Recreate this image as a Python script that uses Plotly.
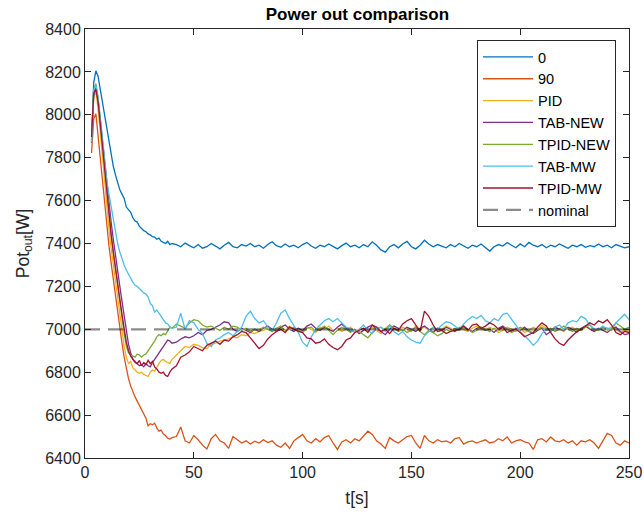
import plotly.graph_objects as go

# ---------------- data ----------------
T_TRANS = [3, 4, 5, 6, 7, 8, 9, 10, 11, 12, 13, 14, 15, 16, 17, 18, 19, 20,
           21, 22, 23, 24, 25, 26, 27, 28, 29, 30, 31, 32, 33, 34, 35, 36, 37,
           38, 39, 40]
STEADY_START = 42
STEADY_STEP = 2

P0_TRANS = [7880, 8150, 8205, 8180, 8120, 8060, 8010, 7950, 7880, 7810, 7760,
            7720, 7685, 7650, 7630, 7610, 7570, 7555, 7545, 7520, 7505, 7500,
            7480, 7470, 7460, 7455, 7445, 7440, 7432, 7430, 7420, 7425, 7410,
            7405, 7400, 7410, 7395, 7400]
P0_STEADY = [7395, 7385, 7402, 7390, 7380, 7395, 7378, 7385, 7400, 7388, 7375,
             7392, 7405, 7385, 7380, 7395, 7388, 7400, 7385, 7392, 7378, 7395,
             7408, 7390, 7382, 7398, 7385, 7392, 7380, 7395, 7405, 7388, 7378,
             7392, 7385, 7398, 7388, 7375, 7390, 7402, 7385, 7392, 7380, 7395,
             7385, 7408, 7392, 7370, 7360, 7385, 7395, 7380, 7398, 7410, 7385,
             7375, 7392, 7415, 7398, 7385, 7395, 7388, 7380, 7395, 7385, 7400,
             7388, 7378, 7392, 7385, 7398, 7380, 7365, 7385, 7395, 7388, 7405,
             7392, 7380, 7398, 7385, 7405, 7392, 7385, 7395, 7380, 7392, 7385,
             7398, 7388, 7378, 7392, 7385, 7395, 7382, 7390, 7385, 7398, 7385,
             7392, 7380, 7395, 7388, 7380, 7385]

P90_TRANS = [7822, 7980, 8005, 7900, 7780, 7670, 7570, 7480, 7390, 7310, 7230,
             7155, 7080, 7005, 6935, 6870, 6810, 6770, 6735, 6705, 6685, 6665,
             6645, 6625, 6610, 6585, 6550, 6560, 6555, 6562, 6540, 6525, 6530,
             6512, 6505, 6492, 6488, 6495]
P90_STEADY = [6500, 6545, 6480, 6470, 6505, 6485, 6460, 6442, 6490, 6510, 6480,
              6470, 6445, 6500, 6485, 6470, 6480, 6465, 6478, 6470, 6485, 6472,
              6480, 6460, 6450, 6470, 6445, 6480, 6495, 6510, 6480, 6470, 6490,
              6475, 6495, 6505, 6470, 6440, 6475, 6485, 6470, 6490, 6480, 6505,
              6525, 6510, 6480, 6465, 6445, 6495, 6480, 6470, 6485, 6500, 6505,
              6470, 6445, 6505, 6480, 6470, 6485, 6475, 6480, 6470, 6490, 6495,
              6465, 6475, 6480, 6470, 6478, 6485, 6470, 6475, 6490, 6480, 6498,
              6470, 6480, 6485, 6475, 6470, 6440, 6485, 6490, 6475, 6498, 6480,
              6475, 6485, 6470, 6480, 6460, 6480, 6475, 6485, 6470, 6445, 6480,
              6515, 6505, 6470, 6460, 6480, 6470]

PID_TRANS = [7860, 8080, 8110, 8030, 7920, 7800, 7680, 7570, 7470, 7380, 7300,
             7220, 7140, 7060, 6985, 6920, 6870, 6840, 6850, 6820, 6810, 6800,
             6795, 6800, 6790, 6785, 6780, 6800, 6810, 6805, 6825, 6840, 6855,
             6860, 6850, 6845, 6840, 6860]
PID_STEADY = [6880, 6900, 6920, 6915, 6930, 6925, 6915, 6910, 6930, 6935, 6945,
              6950, 6955, 6965, 6960, 6975, 6970, 6985, 6980, 6990, 6995, 7005,
              6990, 7000, 7010, 6995, 7015, 7000, 7005, 6990, 7010, 7000, 6985,
              7010, 7000, 7015, 6995, 7005, 6990, 7000, 7010, 6985, 7000, 7005,
              6990, 7010, 6995, 6980, 7005, 7020, 7000, 6995, 7010, 7000, 6990,
              7015, 7000, 7010, 6995, 6985, 7005, 7000, 7015, 7005, 6995, 7010,
              7000, 6990, 7005, 7015, 7000, 6995, 7010, 7000, 6985, 6995, 7010,
              7000, 6990, 7005, 6985, 6995, 7010, 7000, 7020, 7005, 6995, 7010,
              7000, 6990, 7005, 7010, 6995, 7000, 7015, 7005, 6990, 7000, 7010,
              6995, 7005, 7000, 6985, 6995, 6990]

TABNEW_TRANS = [7870, 8090, 8130, 8070, 7980, 7880, 7780, 7680, 7590, 7500,
                7420, 7340, 7270, 7200, 7130, 7060, 6990, 6930, 6890, 6860,
                6845, 6840, 6830, 6835, 6825, 6840, 6830, 6825, 6845, 6860,
                6875, 6890, 6905, 6920, 6935, 6950, 6945, 6935]
TABNEW_STEADY = [6940, 6955, 6965, 6960, 6970, 6985, 6975, 6995, 7000, 7010,
                 7020, 7035, 7030, 7000, 6990, 7005, 6995, 6985, 7000, 6990,
                 7005, 7015, 7000, 6990, 7010, 7020, 7000, 6990, 7005, 6995,
                 7015, 7025, 7005, 6995, 7010, 7000, 6990, 7010, 7025, 7005,
                 6990, 7000, 6980, 6995, 7010, 7020, 7000, 6990, 6975, 7000,
                 7015, 7005, 6995, 7010, 7000, 6990, 7005, 7015, 7000, 6985,
                 7005, 6995, 7010, 7000, 6990, 7005, 7015, 7000, 6990, 7005,
                 7010, 6995, 7000, 6985, 7005, 7015, 7000, 6990, 7005, 6995,
                 7010, 6990, 6980, 6995, 7005, 6975, 6990, 7010, 7000, 6995,
                 7010, 7000, 6985, 7005, 7015, 7000, 6990, 7005, 6995, 6985,
                 7000, 7010, 6990, 6975, 6980]

TPIDNEW_TRANS = [7880, 8120, 8145, 8080, 7970, 7860, 7750, 7640, 7540, 7450,
                 7360, 7280, 7200, 7125, 7050, 6980, 6920, 6890, 6880, 6875,
                 6870, 6885, 6880, 6870, 6880, 6885, 6900, 6910, 6925, 6945,
                 6965, 6975, 6970, 6980, 6975, 6995, 7010, 7005]
TPIDNEW_STEADY = [7025, 7015, 7005, 7030, 7045, 7040, 7020, 7010, 7015, 7005,
                  6995, 7010, 7000, 7015, 7010, 6995, 7005, 6990, 7000, 6995,
                  7010, 7000, 6990, 7005, 7015, 6995, 7000, 7010, 6995, 6985,
                  7005, 7010, 6990, 7000, 7015, 6995, 6975, 6995, 7010, 7000,
                  6985, 7000, 6990, 6975, 6960, 6985, 7000, 7010, 6995, 7020,
                  7005, 6990, 7000, 6985, 6995, 7010, 6990, 6975, 6995, 6985,
                  6970, 6980, 7000, 6990, 7005, 6995, 7010, 7000, 6985, 6995,
                  7010, 7000, 6990, 7005, 6995, 7010, 7000, 6985, 6995, 7010,
                  7000, 6990, 6985, 7000, 7010, 6995, 7005, 6990, 7000, 7015,
                  7000, 6990, 7005, 6995, 7010, 7020, 7000, 6995, 7010, 7005,
                  6995, 7030, 7015, 7000, 7010]

TABMW_TRANS = [7873, 8110, 8140, 8080, 7990, 7890, 7790, 7696, 7630, 7570,
               7510, 7455, 7400, 7360, 7325, 7300, 7275, 7255, 7240, 7220,
               7205, 7200, 7190, 7180, 7170, 7165, 7150, 7120, 7110, 7080,
               7090, 7075, 7060, 7045, 7030, 7025, 7010, 7005]
TABMW_STEADY = [7010, 7075, 7000, 7040, 7030, 7000, 6980, 6935, 6920, 6950,
                6960, 6975, 6985, 6970, 6990, 7010, 7060, 7085, 7050, 7030,
                7040, 7010, 6995, 7030, 7075, 7090, 7050, 7020, 6985, 6940,
                6920, 6965, 7000, 7020, 7040, 7050, 7035, 7050, 7030, 7010,
                7000, 6985, 7000, 7020, 6995, 6980, 7005, 7010, 6990, 7015,
                6990, 6975, 6990, 6965, 6950, 6940, 6935, 6970, 6990, 7010,
                7000, 7020, 7035, 7030, 7015, 7000, 7025, 7045, 7060, 7050,
                7065, 7040, 7030, 7050, 7040, 7070, 7075, 7050, 7020, 6990,
                6970, 6950, 6925, 6945, 6980, 7000, 6990, 7010, 7020, 7000,
                7030, 7040, 7035, 7060, 7050, 7020, 7000, 7000, 7015, 7000,
                7010, 7030, 7050, 7070, 7045]

TPIDMW_TRANS = [7896, 8100, 8120, 8060, 7960, 7850, 7740, 7630, 7530, 7440,
                7360, 7280, 7210, 7140, 7070, 7005, 6940, 6900, 6875, 6860,
                6850, 6840, 6855, 6830, 6845, 6835, 6855, 6840, 6850, 6825,
                6815, 6800, 6795, 6800, 6785, 6780, 6800, 6815]
TPIDMW_STEADY = [6830, 6870, 6880, 6895, 6920, 6910, 6900, 6925, 6935, 6945,
                 6930, 6950, 6945, 6965, 6975, 6990, 6985, 6960, 6935, 6910,
                 6925, 6955, 6975, 6990, 7000, 6985, 7010, 7000, 6990, 6985,
                 6960, 6955, 6935, 6940, 6955, 6930, 6915, 6905, 6920, 6950,
                 6960, 6985, 6995, 7005, 6985, 7020, 7010, 6990, 7000, 6980,
                 7005, 6995, 7025, 7040, 7050, 7020, 6990, 7085, 7060, 7020,
                 6990, 6995, 6980, 6990, 6995, 7000, 7015, 6995, 7020, 7025,
                 7005, 7015, 7030, 7020, 7000, 7010, 6985, 6995, 7000, 6985,
                 6965, 6975, 6985, 7010, 7030, 7015, 6985, 6955, 6935, 6925,
                 6950, 6970, 6990, 7000, 7015, 7030, 7020, 7040, 7030, 7045,
                 7020, 6985, 6975, 6990, 6985]

NOMINAL_T = [0, 250]
NOMINAL_V = [7000, 7000]

NAMES = ["0", "90", "PID", "TAB-NEW", "TPID-NEW", "TAB-MW", "TPID-MW"]
COLORS = ["#0072BD", "#D95319", "#EDB120", "#7E2F8E", "#77AC30", "#4DBEEE", "#A2142F"]
SERIES = [
    (P0_TRANS, P0_STEADY),
    (P90_TRANS, P90_STEADY),
    (PID_TRANS, PID_STEADY),
    (TABNEW_TRANS, TABNEW_STEADY),
    (TPIDNEW_TRANS, TPIDNEW_STEADY),
    (TABMW_TRANS, TABMW_STEADY),
    (TPIDMW_TRANS, TPIDMW_STEADY),
]

X_TICKS = [0, 50, 100, 150, 200, 250]
Y_TICKS = [6400, 6600, 6800, 7000, 7200, 7400, 7600, 7800, 8000, 8200, 8400]

# ---------------- figure ----------------
FONT = "Liberation Sans, Arial, Helvetica, sans-serif"
AX = "#262626"

fig = go.Figure()
for name, color, (tr, st) in zip(NAMES, COLORS, SERIES):
    t = T_TRANS + [STEADY_START + STEADY_STEP * i for i in range(len(st))]
    fig.add_trace(go.Scatter(x=t, y=tr + st, mode="lines", name=name,
                             legendgroup=name,
                             line=dict(color=color, width=1.3)))

fig.add_trace(go.Scatter(x=NOMINAL_T, y=NOMINAL_V, mode="lines", name="nominal",
                         legendgroup="nominal",
                         line=dict(color="rgba(0,0,0,0.45)", width=2.2,
                                   dash="15px,8px")))

axis_common = dict(
    showline=True, linecolor=AX, linewidth=1, mirror="ticks",
    ticks="inside", ticklen=6, tickcolor=AX, tickwidth=1,
    showgrid=False, zeroline=False, automargin=False,
    tickfont=dict(family=FONT, size=16, color=AX),
)

fig.update_layout(
    width=644, height=515,
    margin=dict(l=85, r=15, t=29, b=57),
    paper_bgcolor="white", plot_bgcolor="white",
    font=dict(family=FONT, color=AX),
    title=dict(text="<b>Power out comparison</b>", x=0.555, xanchor="center",
               y=0.972, yanchor="middle", yref="container",
               font=dict(family=FONT, size=17, color="black")),
    xaxis=dict(range=[0, 250], tickvals=X_TICKS,
               title=dict(text="t[s]", standoff=11,
                          font=dict(family=FONT, size=17.5, color=AX)),
               **axis_common),
    yaxis=dict(range=[6400, 8400], tickvals=Y_TICKS,
               title=dict(text="Pot<sub>out</sub>[W]", standoff=11,
                          font=dict(family=FONT, size=17.5, color=AX)),
               **axis_common),
    legend=dict(x=0.7206, y=0.9744, xanchor="left", yanchor="top",
                bgcolor="white", bordercolor=AX, borderwidth=1,
                font=dict(family=FONT, size=14.5, color="black"),
                tracegroupgap=0, itemwidth=50),
    showlegend=True,
)

fig.write_html("out.html",
               config={"displayModeBar": False},
               post_script="document.body.style.margin='0px';"
                           "document.body.style.padding='0px';")
